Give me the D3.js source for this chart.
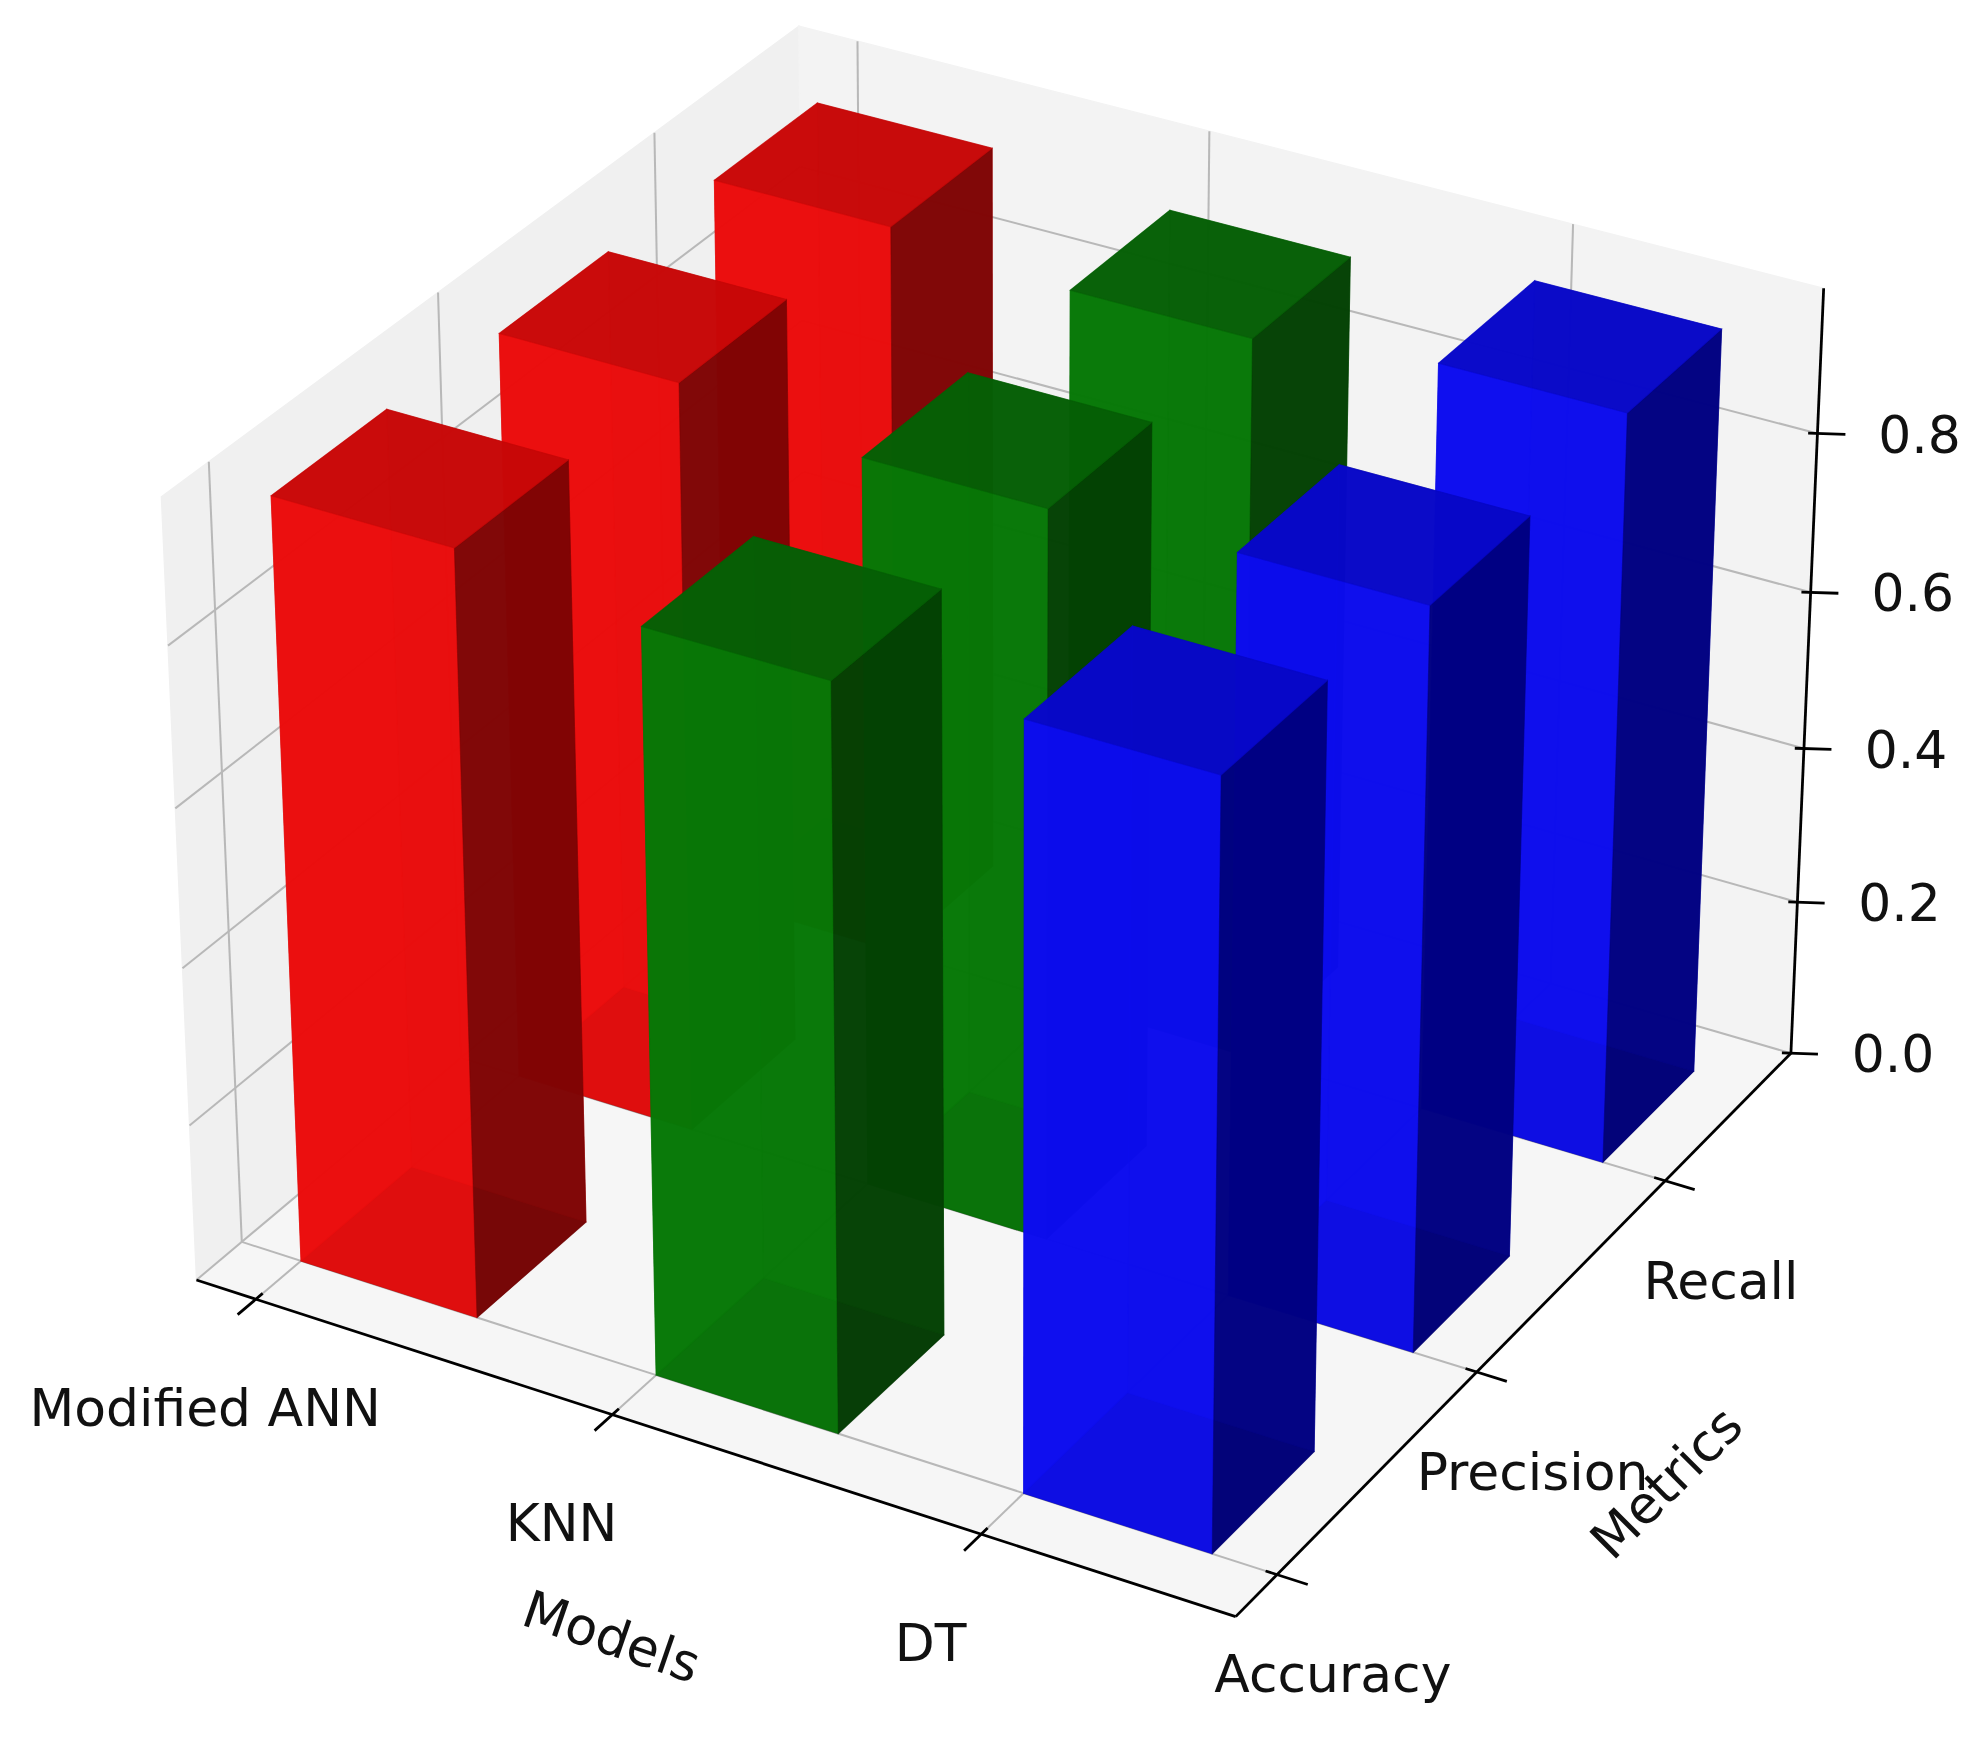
<!DOCTYPE html>
<html><head><meta charset="utf-8">
<script src="https://cdn.jsdelivr.net/npm/d3@7"></script>
<style>body{margin:0;background:#fff}svg{display:block}</style>
</head><body>
<script>
const models = ["Modified ANN", "KNN", "DT"];
const metrics = ["Accuracy", "Precision", "Recall"];
// values[model][metric]
const annValues = [0.96, 0.95, 0.94];
const knnValues = [0.93, 0.92, 0.92];
const dtValues = [0.95, 0.93, 0.95];
const zTicks = [0.0, 0.2, 0.4, 0.6, 0.8];
const barColors = ["red", "green", "blue"];

const values = [annValues, knnValues, dtValues];
const W = 1568, H = 1377;
const svg = d3.select("body").append("svg")
  .attr("width", 1987).attr("height", 1745)
  .attr("viewBox", `0 0 ${W} ${H}`);

// normalized box scales
const sx = d3.scaleLinear().domain([-0.17, 2.67]).range([-0.5, 0.5]);
const sy = d3.scaleLinear().domain([-0.2, 2.7]).range([-0.5, 0.5]);
const sz = d3.scaleLinear().domain([0, 0.98]).range([-0.375, 0.375]);
const [xmin, xmax] = sx.domain(), [ymin, ymax] = sy.domain(), [zmin, zmax] = sz.domain();

const S = 940, cx = 795, cy = 620, D = 9;
const ca = Math.cos(-Math.PI / 3), sa = Math.sin(-Math.PI / 3);
const ce = Math.cos(Math.PI / 6), se = Math.sin(Math.PI / 6);
function depth(x, y, z) {
  const X = sx(x), Y = sy(y), Z = sz(z);
  return ce * ca * X + ce * sa * Y + se * Z;
}
function proj(x, y, z) {
  const X = sx(x), Y = sy(y), Z = sz(z);
  const px = -sa * X + ca * Y;
  const py = -se * ca * X - se * sa * Y + ce * Z;
  const f = D / (D - depth(x, y, z));
  return [cx + S * f * px, cy - S * f * py];
}
const poly = pts => "M" + pts.map(p => proj(...p).join(",")).join("L") + "Z";
const seg = (a, b) => "M" + proj(...a).join(",") + "L" + proj(...b).join(",");

// panes
const gP = svg.append("g");
gP.append("path").attr("d", poly([[xmin, ymin, zmin], [xmin, ymax, zmin], [xmin, ymax, zmax], [xmin, ymin, zmax]]))
  .attr("fill", "#f0f0f0").attr("stroke", "#f0f0f0");
gP.append("path").attr("d", poly([[xmin, ymax, zmin], [xmax, ymax, zmin], [xmax, ymax, zmax], [xmin, ymax, zmax]]))
  .attr("fill", "#f3f3f3").attr("stroke", "#f3f3f3");
gP.append("path").attr("d", poly([[xmin, ymin, zmin], [xmax, ymin, zmin], [xmax, ymax, zmin], [xmin, ymax, zmin]]))
  .attr("fill", "#f6f6f6").attr("stroke", "#f6f6f6");

// grid
const grid = [];
d3.range(3).forEach(i => {
  grid.push(seg([i, ymin, zmin], [i, ymax, zmin]));
  grid.push(seg([i, ymax, zmin], [i, ymax, zmax]));
  grid.push(seg([xmin, i, zmin], [xmax, i, zmin]));
  grid.push(seg([xmin, i, zmin], [xmin, i, zmax]));
});
zTicks.forEach(z => {
  grid.push(seg([xmin, ymin, z], [xmin, ymax, z]));
  grid.push(seg([xmin, ymax, z], [xmax, ymax, z]));
});
gP.selectAll("path.grid").data(grid).join("path").attr("class", "grid")
  .attr("d", d => d).attr("stroke", "#b8b8b8").attr("stroke-width", 1.6).attr("fill", "none");

// axis lines and ticks
const gA = svg.append("g").attr("stroke", "#000").attr("stroke-width", 2.2).attr("fill", "none");
gA.append("path").attr("d", seg([xmin, ymin, zmin], [xmax, ymin, zmin]));
gA.append("path").attr("d", seg([xmax, ymin, zmin], [xmax, ymax, zmin]));
gA.append("path").attr("d", seg([xmax, ymax, zmin], [xmax, ymax, zmax]));
d3.range(3).forEach(i => {
  gA.append("path").attr("d", seg([i, ymin + 0.03, zmin], [i, ymin - 0.08, zmin]));
  gA.append("path").attr("d", seg([xmax - 0.03, i, zmin], [xmax + 0.08, i, zmin]));
});
zTicks.forEach(z => gA.append("path").attr("d", seg([xmax - 0.02, ymax - 0.01, z], [xmax + 0.06, ymax + 0.03, z])));

// bars
const bars = [];
values.forEach((row, i) => row.forEach((v, j) => bars.push({ i, j, v })));
bars.forEach(b => b.d = depth(b.i + 0.25, b.j + 0.25, b.v / 2));
bars.sort((a, b) => a.d - b.d);

const shades = {
  red:   { front: "#ee0c0c", right: "#780404", top: "#c80808", back: "#c00606", left: "#d00808", bottom: "#600000" },
  green: { front: "#077a07", right: "#033d03", top: "#065f06", back: "#056005", left: "#066a06", bottom: "#022a02" },
  blue:  { front: "#0c0cf2", right: "#00007a", top: "#0808c8", back: "#0606c0", left: "#0808d0", bottom: "#000060" }
};
const gB = svg.append("g");
bars.forEach(b => {
  const x0 = b.i, x1 = b.i + 0.5, y0 = b.j, y1 = b.j + 0.5, z1 = b.v;
  const c = shades[barColors[b.i]];
  const faces = [
    { k: "bottom", p: [[x0, y0, 0], [x1, y0, 0], [x1, y1, 0], [x0, y1, 0]] },
    { k: "back", p: [[x0, y1, 0], [x1, y1, 0], [x1, y1, z1], [x0, y1, z1]] },
    { k: "left", p: [[x0, y0, 0], [x0, y1, 0], [x0, y1, z1], [x0, y0, z1]] },
    { k: "front", p: [[x0, y0, 0], [x1, y0, 0], [x1, y0, z1], [x0, y0, z1]] },
    { k: "right", p: [[x1, y0, 0], [x1, y1, 0], [x1, y1, z1], [x1, y0, z1]] },
    { k: "top", p: [[x0, y0, z1], [x1, y0, z1], [x1, y1, z1], [x0, y1, z1]] }
  ];
  gB.selectAll(null).data(faces).join("path")
    .attr("d", f => poly(f.p)).attr("fill", f => c[f.k])
    .attr("fill-opacity", 0.88).attr("stroke", f => c[f.k]).attr("stroke-opacity", 0.5).attr("stroke-width", 0.8);
});

// labels
const gT = svg.append("g").attr("font-family", "DejaVu Sans").attr("font-size", 41).attr("fill", "#111");
models.forEach((m, i) => {
  const p = proj(i, ymin, zmin);
  gT.append("text").attr("x", p[0] - 40).attr("y", p[1] + 100).attr("text-anchor", "middle").text(m);
});
metrics.forEach((m, j) => {
  const p = proj(xmax, j, zmin);
  gT.append("text").attr("x", p[0] + 44).attr("y", p[1] + 93).attr("text-anchor", "middle").text(m);
});
zTicks.forEach(z => {
  const p = proj(xmax, ymax, z);
  gT.append("text").attr("x", p[0] + 48).attr("y", p[1] + 15).attr("text-anchor", "start").text(z.toFixed(1));
});
gT.append("text").attr("transform", "translate(478,1305) rotate(19)").attr("text-anchor", "middle").text("Models");
gT.append("text").attr("transform", "translate(1325,1180) rotate(-45)").attr("text-anchor", "middle").text("Metrics");
</script>
</body></html>
